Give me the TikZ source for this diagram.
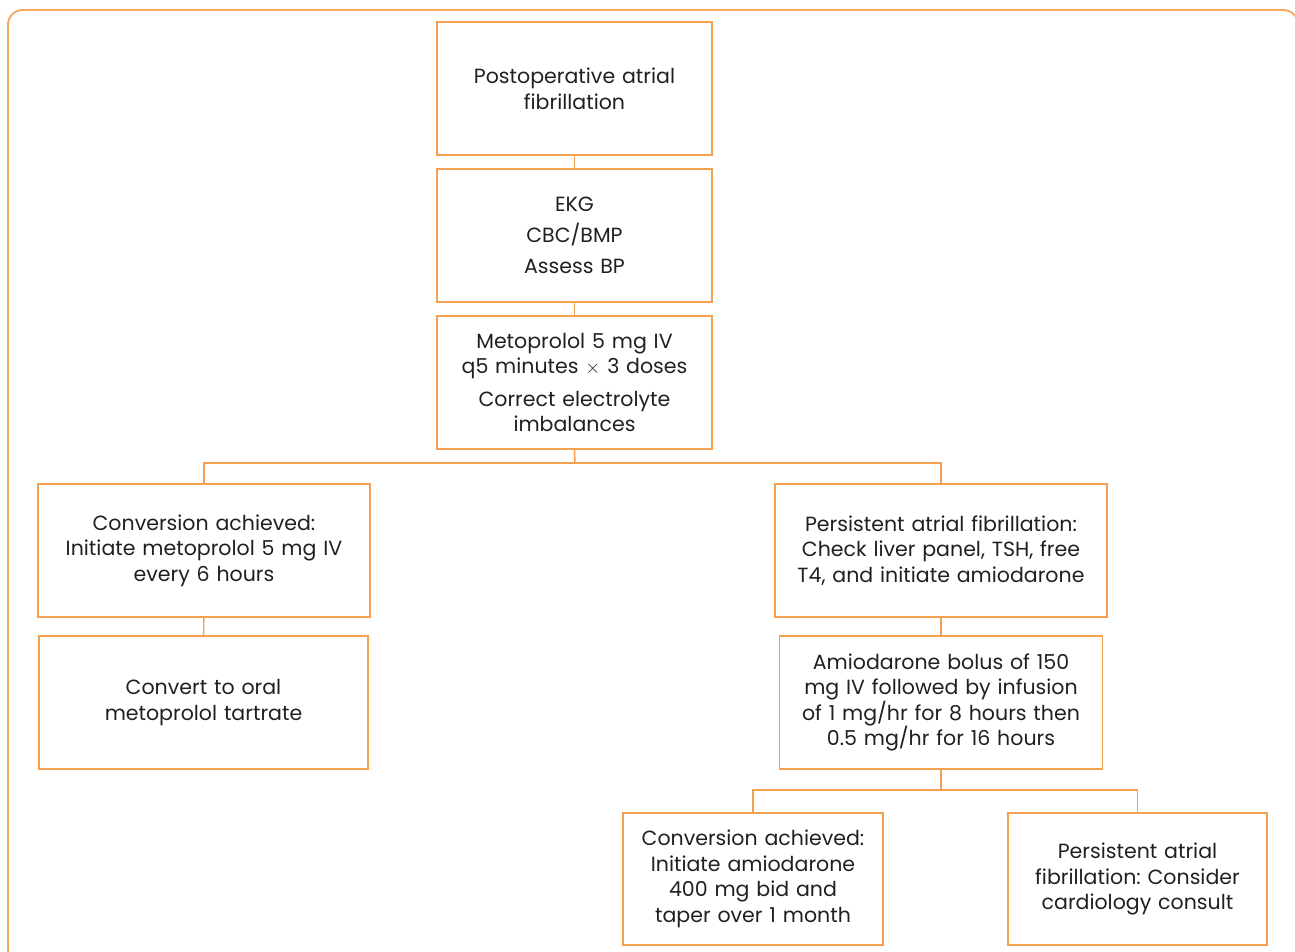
\documentclass[tikz,border=0pt]{standalone}
\usepackage{fontspec}
\setmainfont[Ligatures={NoCommon}]{Poppins}
\frenchspacing
\definecolor{frameor}{RGB}{247,168,92}
\definecolor{boxor}{RGB}{245,160,80}
\definecolor{txt}{RGB}{35,31,32}
\begin{document}
\begin{tikzpicture}[x=0.75pt,y=-0.75pt,
  box/.style={draw=boxor,line width=1.1pt,rectangle,align=center,inner sep=0pt,
    text=txt,font=\fontsize{15.4}{19.2}\selectfont},
  link/.style={draw=boxor,line width=1.1pt}]
\useasboundingbox (0,0) rectangle (1295,952);
\draw[frameor,line width=1.4pt,rounded corners=11pt] (8,10) rectangle (1298,964);
% top column
\node[box,minimum width=275*0.75pt,minimum height=133*0.75pt,text width=260*0.75pt] (a) at (574.5,88.5) {Postoperative atrial\\fibrillation};
\node[box,minimum width=275*0.75pt,minimum height=133*0.75pt,text width=260*0.75pt] (b) at (574.5,235.5) {EKG\\[4pt]CBC/BMP\\[4pt]Assess BP};
\node[box,minimum width=275*0.75pt,minimum height=133*0.75pt,text width=270*0.75pt] (c) at (574.5,382.5) {Metoprolol 5 mg IV\\q5 minutes $\times$ 3 doses\\[5pt]Correct electrolyte\\imbalances};
% left branch
\node[box,minimum width=332*0.75pt,minimum height=133*0.75pt,text width=325*0.75pt] (d) at (204,550.5) {Conversion achieved:\\Initiate metoprolol 5 mg IV\\every 6 hours};
\node[box,minimum width=329*0.75pt,minimum height=133*0.75pt,text width=310*0.75pt] (e) at (203.5,702.5) {Convert to oral\\metoprolol tartrate};
% right branch
\node[box,minimum width=332*0.75pt,minimum height=133*0.75pt,text width=325*0.75pt] (f) at (941,550.5) {Persistent atrial fibrillation:\\Check liver panel, TSH, free\\T4, and initiate amiodarone};
\node[box,minimum width=323*0.75pt,minimum height=133*0.75pt,text width=318*0.75pt] (g) at (941,702.5) {Amiodarone bolus of 150\\mg IV followed by infusion\\of 1 mg/hr for 8 hours then\\0.5 mg/hr for 16 hours};
\node[box,minimum width=260*0.75pt,minimum height=132*0.75pt,text width=256*0.75pt] (h) at (753,879) {Conversion achieved:\\Initiate amiodarone\\400 mg bid and\\taper over 1 month};
\node[box,minimum width=259*0.75pt,minimum height=132*0.75pt,text width=255*0.75pt] (i) at (1137.5,879) {Persistent atrial\\fibrillation: Consider\\cardiology consult};
% connectors
\draw[link] (a) -- (b);
\draw[link] (b) -- (c);
\coordinate (j1) at (575,463);
\draw[link] (c.south) -- (j1);
\draw[link] (d.north) |- (j1) -| (f.north);
\draw[link] (d) -- (e);
\draw[link] (f) -- (g);
\coordinate (j2) at (941,790);
\draw[link] (g.south) -- (j2);
\draw[link] (h.north) |- (j2) -| (i.north);
\end{tikzpicture}
\end{document}
